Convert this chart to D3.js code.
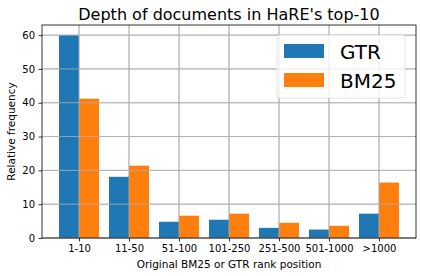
<!DOCTYPE html>
<html>
<head>
<meta charset="utf-8">
<script src="https://cdn.jsdelivr.net/npm/d3@7"></script>
<style>
body { margin: 0; background: #fff; }
text { font-family: "DejaVu Sans", sans-serif; fill: #000; }
</style>
</head>
<body>
<div id="chart"></div>
<script>
const categories = ["1-10", "11-50", "51-100", "101-250", "251-500", "501-1000", ">1000"];
const gtr = [60, 18.1, 4.8, 5.4, 3.0, 2.5, 7.2];
const bm25 = [41.2, 21.4, 6.6, 7.2, 4.5, 3.6, 16.4];
const yTicks = [0, 10, 20, 30, 40, 50, 60];
const seriesNames = ["GTR", "BM25"];
const colors = ["#1f77b4", "#ff7f0e"];

const width = 421, height = 276;
const margin = { left: 42, right: 5, top: 25, bottom: 38 };

const svg = d3.select("#chart").append("svg").attr("width", width).attr("height", height);

// positions as in matplotlib: centres at 0..6, bars 0.4 wide each side
const x = d3.scaleLinear().domain([-0.74, 6.74]).range([margin.left, width - margin.right]);
const y = d3.scaleLinear().domain([0, 63]).range([height - margin.bottom, margin.top]);

const g = svg.append("g");

// grid
g.selectAll(".vg").data(categories).enter().append("line")
  .attr("x1", (d, i) => x(i)).attr("x2", (d, i) => x(i))
  .attr("y1", y(0)).attr("y2", y(63))
  .attr("stroke", "#b0b0b0").attr("stroke-width", 0.8);
g.selectAll(".hg").data(yTicks).enter().append("line")
  .attr("x1", x(-0.74)).attr("x2", x(6.74))
  .attr("y1", d => y(d)).attr("y2", d => y(d))
  .attr("stroke", "#b0b0b0").attr("stroke-width", 0.8);

// bars
[gtr, bm25].forEach((vals, s) => {
  g.selectAll(".b" + s).data(vals).enter().append("rect")
    .attr("x", (d, i) => x(i + (s === 0 ? -0.4 : 0)))
    .attr("width", x(0.4) - x(0))
    .attr("y", d => y(d))
    .attr("height", d => y(0) - y(d))
    .attr("fill", colors[s]);
});

// gridlines drawn above bars in reference (axisbelow false-ish)
g.selectAll(".vg2").data(categories).enter().append("line")
  .attr("x1", (d, i) => x(i)).attr("x2", (d, i) => x(i))
  .attr("y1", y(0)).attr("y2", y(63))
  .attr("stroke", "#b0b0b0").attr("stroke-width", 0.8);
g.selectAll(".hg2").data(yTicks).enter().append("line")
  .attr("x1", x(-0.74)).attr("x2", x(6.74))
  .attr("y1", d => y(d)).attr("y2", d => y(d))
  .attr("stroke", "#b0b0b0").attr("stroke-width", 0.8);

// axes
const xAxis = svg.append("g").attr("transform", `translate(0,${y(0)})`)
  .call(d3.axisBottom(x).tickValues(d3.range(categories.length)).tickFormat(i => categories[i]).tickSize(3.5).tickPadding(3.5));
const yAxis = svg.append("g").attr("transform", `translate(${x(-0.74)},0)`)
  .call(d3.axisLeft(y).tickValues(yTicks).tickSize(3.5).tickPadding(3.5));
[xAxis, yAxis].forEach(a => {
  a.select(".domain").remove();
  a.selectAll("text").style("font-size", "10px").style("font-family", "DejaVu Sans");
  a.selectAll("line").attr("stroke", "#000").attr("stroke-width", 0.8);
});

// frame
svg.append("rect").attr("x", x(-0.74)).attr("y", y(63))
  .attr("width", x(6.74) - x(-0.74)).attr("height", y(0) - y(63))
  .attr("fill", "none").attr("stroke", "#000").attr("stroke-width", 0.8);

// title and labels
svg.append("text").attr("x", (x(-0.74) + x(6.74)) / 2).attr("y", 20)
  .attr("text-anchor", "middle").style("font-size", "16px").text("Depth of documents in HaRE's top-10");
svg.append("text").attr("x", (x(-0.74) + x(6.74)) / 2).attr("y", 268)
  .attr("text-anchor", "middle").style("font-size", "10.5px").text("Original BM25 or GTR rank position");
svg.append("text").attr("transform", `translate(15,${(y(0) + y(63)) / 2}) rotate(-90)`)
  .attr("text-anchor", "middle").style("font-size", "10.5px").text("Relative frequency");

// legend
const lg = svg.append("g").attr("transform", "translate(277,35)");
lg.append("rect").attr("width", 128).attr("height", 63).attr("rx", 3)
  .attr("fill", "#fff").attr("fill-opacity", 0.8).attr("stroke", "#ddd").attr("stroke-width", 0.8);
seriesNames.forEach((n, i) => {
  lg.append("rect").attr("x", 7).attr("y", 9 + i * 29).attr("width", 40).attr("height", 14).attr("fill", colors[i]);
  lg.append("text").attr("x", 63).attr("y", 24 + i * 29).style("font-size", "20px").text(n);
});
</script>
</body>
</html>
